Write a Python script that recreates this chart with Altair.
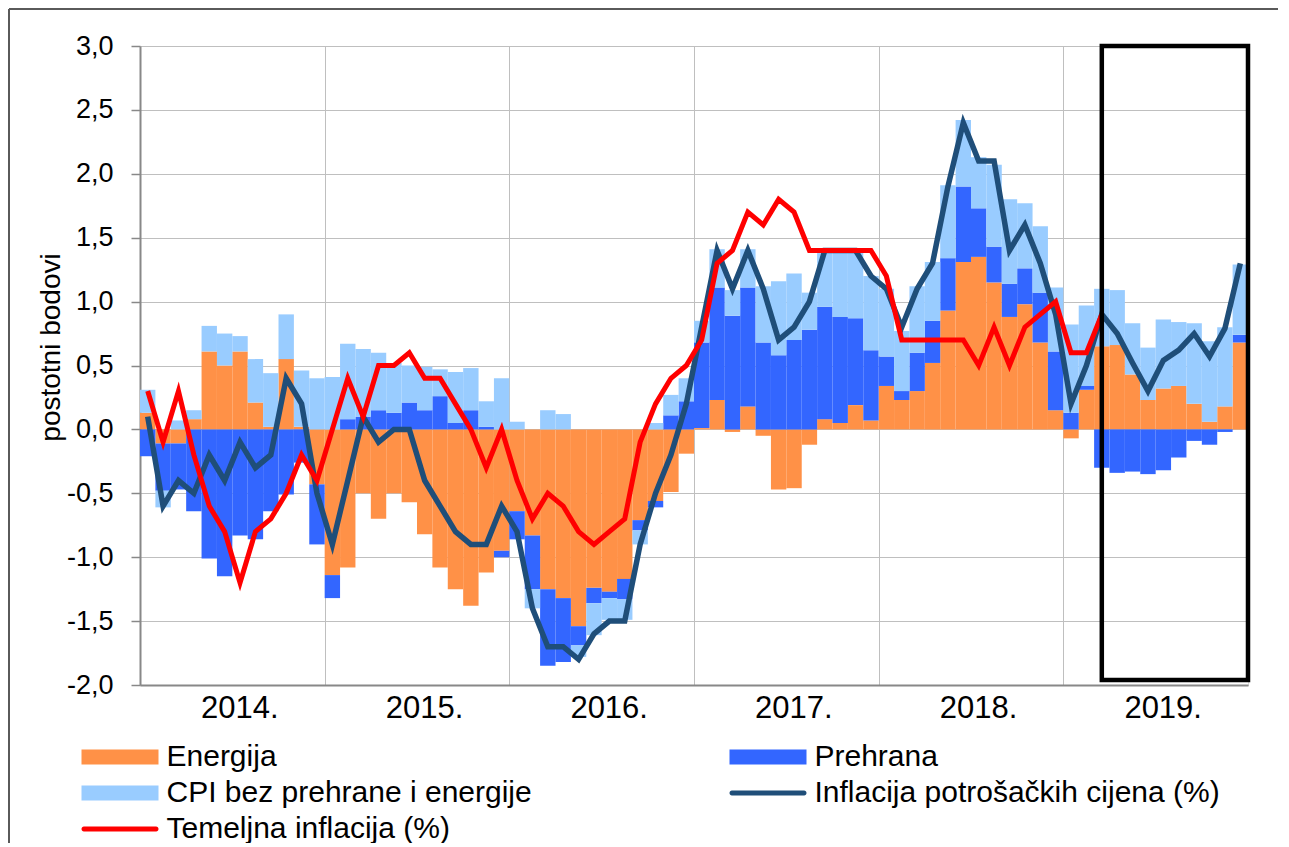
import altair as alt
import pandas as pd

# ---- series names ----
S_E = "Energija"
S_F = "Prehrana"
S_C = "CPI bez prehrane i energije"
S_I = "Inflacija potrošačkih cijena (%)"
S_T = "Temeljna inflacija (%)"
# legend is filled column by column: (E, C, T) | (F, I) -> reads row-wise E F / C I / T
LEGEND_ORDER = [S_E, S_C, S_T, S_F, S_I]
COLOR_OF = {S_E: "#FF9147", S_F: "#3366FF", S_C: "#99CCFF", S_I: "#1F4E79", S_T: "#FF0000"}

FIRST_YEAR = 2014
# monthly contributions (percentage points), Jan 2014 - Dec 2019
energija = [
    0.13, -0.11, -0.11, 0.08, 0.61, 0.50, 0.61, 0.21, 0.02, 0.55, 0.02, -0.43,
    -1.14, -1.08, -0.50, -0.70, -0.50, -0.57, -0.82, -1.08, -1.25, -1.38, -1.12, -0.95,
    -0.64, -0.83, -1.25, -1.32, -1.54, -1.24, -1.27, -1.17, -0.71, -0.56, -0.49, -0.19,
    0.01, 0.23, -0.02, 0.18, -0.05, -0.47, -0.46, -0.12, 0.08, 0.05, 0.19, 0.07,
    0.34, 0.23, 0.30, 0.52, 0.93, 1.31, 1.35, 1.15, 0.88, 0.98, 0.68, 0.15,
    -0.07, 0.31, 0.65, 0.66, 0.43, 0.23, 0.32, 0.34, 0.20, 0.06, 0.18, 0.68,
]
prehrana = [
    -0.21, -0.37, -0.36, -0.64, -1.01, -1.15, -0.83, -0.86, -0.64, -0.51, -0.26, -0.47,
    -0.18, 0.08, 0.10, 0.15, 0.13, 0.21, 0.15, 0.26, 0.05, 0.15, 0.02, -0.05,
    -0.22, -0.42, -0.60, -0.50, -0.15, -0.12, -0.05, -0.16, -0.08, -0.05, 0.11, 0.22,
    0.67, 0.88, 0.89, 0.93, 0.68, 0.58, 0.70, 0.78, 0.88, 0.83, 0.68, 0.55,
    0.23, 0.07, 0.30, 0.33, 0.41, 0.59, 0.38, 0.28, 0.26, 0.28, 0.39, 0.46,
    0.13, 0.03, -0.30, -0.34, -0.33, -0.35, -0.32, -0.22, -0.09, -0.12, -0.02, 0.06,
]
cpi_core = [
    0.18, -0.13, 0.07, 0.07, 0.20, 0.25, 0.12, 0.34, 0.42, 0.35, 0.44, 0.40,
    0.41, 0.59, 0.53, 0.45, 0.39, 0.29, 0.34, 0.21, 0.40, 0.33, 0.20, 0.40,
    0.06, -0.15, 0.15, 0.12, -0.09, -0.25, -0.17, -0.16, -0.11, 0.05, 0.16, 0.18,
    0.17, 0.30, 0.20, 0.30, 0.44, 0.58, 0.52, 0.29, 0.42, 0.53, 0.52, 0.58,
    0.53, 0.47, 0.52, 0.46, 0.57, 0.52, 0.40, 0.64, 0.66, 0.51, 0.52, 0.50,
    0.69, 0.63, 0.45, 0.43, 0.40, 0.41, 0.54, 0.50, 0.63, 0.63, 0.62, 0.55,
]
inflacija = [
    0.1, -0.6, -0.4, -0.5, -0.2, -0.4, -0.1, -0.3, -0.2, 0.4, 0.2, -0.5,
    -0.9, -0.4, 0.1, -0.1, 0.0, 0.0, -0.4, -0.6, -0.8, -0.9, -0.9, -0.6,
    -0.8, -1.4, -1.7, -1.7, -1.8, -1.6, -1.5, -1.5, -0.9, -0.5, -0.2, 0.2,
    0.8, 1.4, 1.1, 1.4, 1.1, 0.7, 0.8, 1.0, 1.4, 1.4, 1.4, 1.2,
    1.1, 0.8, 1.1, 1.3, 1.9, 2.4, 2.1, 2.1, 1.4, 1.6, 1.3, 0.9,
    0.2, 0.5, 0.9, 0.75, 0.52, 0.3, 0.54, 0.62, 0.75, 0.57, 0.79, 1.3,
]
temeljna = [
    0.3, -0.1, 0.3, -0.2, -0.6, -0.8, -1.2, -0.8, -0.7, -0.5, -0.2, -0.4,
    0.0, 0.4, 0.1, 0.5, 0.5, 0.6, 0.4, 0.4, 0.2, 0.0, -0.3, 0.0,
    -0.4, -0.7, -0.5, -0.6, -0.8, -0.9, -0.8, -0.7, -0.1, 0.2, 0.4, 0.5,
    0.7, 1.3, 1.4, 1.7, 1.6, 1.8, 1.7, 1.4, 1.4, 1.4, 1.4, 1.4,
    1.2, 0.7, 0.7, 0.7, 0.7, 0.7, 0.5, 0.8, 0.5, 0.8, 0.9, 1.0,
    0.6, 0.6, 0.9,
]
# highlighted period (month index, from mid-March 2019 to end of 2019)
highlight = {"start": 62.5, "end": 72, "top": 3.0, "bottom": -1.96}

Y_TICKS = [-2.0, -1.5, -1.0, -0.5, 0.0, 0.5, 1.0, 1.5, 2.0, 2.5, 3.0]

# ---- tables ----
n = len(energija)
rows = []
for order, (name, vals) in enumerate([(S_E, energija), (S_F, prehrana), (S_C, cpi_core)]):
    for m, v in enumerate(vals):
        rows.append({"m": m, "series": name, "value": v, "ord": order})
bars_df = pd.DataFrame(rows)
infl_df = pd.DataFrame({"m": list(range(len(inflacija))), "v": inflacija})
tem_df = pd.DataFrame({"m": list(range(len(temeljna))), "v": temeljna})
hl_df = pd.DataFrame([highlight])

FONT = "Liberation Sans"
GRID = "#BFBFBF"
AXC = "#888888"

x_scale = alt.Scale(domain=[0, n], nice=False, zero=False)
y_scale = alt.Scale(domain=[-2, 3], nice=False, zero=False)

X_AXIS = alt.Axis(
    values=list(range(6, n, 6)),
    labelExpr=f"datum.value % 12 == 6 ? ({FIRST_YEAR} + floor(datum.value / 12)) + '.' : ''",
    grid=True, gridColor=GRID, gridWidth=1,
    gridOpacity={"condition": {"test": "datum.value % 12 == 0", "value": 1}, "value": 0},
    ticks=False, domainColor=AXC, domainWidth=2,
    labelFont=FONT, labelFontSize=31, labelColor="black", labelPadding=8,
    labelOffset=7, labelOverlap=False, labelFlush=False, title=None,
)
Y_AXIS = alt.Axis(
    values=Y_TICKS,
    labelExpr="replace(replace(format(datum.value, '.1f'), '.', ','), '\u2212', '-')",
    grid=True, gridColor=GRID, gridWidth=1,
    tickSize=9, tickColor=AXC, tickWidth=1.5,
    domainColor=AXC, domainWidth=2,
    labelFont=FONT, labelFontSize=27, labelColor="black", labelPadding=18,
    title="postotni bodovi", titleFont=FONT, titleFontSize=28, titleFontWeight="normal",
    titleColor="black", titleX=-89, titleY=301, titleAngle=270,
    titleAlign="center", titleBaseline="middle",
)

line_shape = ("M-3.61,-0.24H3.61A0.24,0.24 0 0 1 3.61,0.24"
              "H-3.61A0.24,0.24 0 0 1 -3.61,-0.24Z")
rect_shape = "M-3.85,-0.75H3.85V0.75H-3.85Z"
legend = alt.Legend(
    orient="none", legendX=-35, legendY=696, columns=2, title=None,
    symbolSize=400,
    symbolType={"expr": f"(datum.value == '{S_I}' || datum.value == '{S_T}') ? '{line_shape}' : '{rect_shape}'"},
    symbolStrokeWidth=0, symbolOpacity=1,
    labelFont=FONT, labelFontSize=30, labelColor="black", labelOffset=31.5,
    labelLimit=0, rowPadding=6, columnPadding=197, padding=0,
)

bars = alt.Chart(bars_df).transform_stack(
    stack="value", groupby=["m"], as_=["y0", "y1"], offset="zero",
    sort=[alt.SortField("ord", order="ascending")],
).transform_calculate(m2="datum.m + 1").mark_bar().encode(
    x=alt.X("m:Q", scale=x_scale, axis=X_AXIS),
    x2="m2:Q",
    y=alt.Y("y0:Q", scale=y_scale, axis=Y_AXIS),
    y2="y1:Q",
    color=alt.Color(
        "series:N",
        scale=alt.Scale(domain=LEGEND_ORDER, range=[COLOR_OF[s] for s in LEGEND_ORDER]),
        legend=legend,
    ),
)

infl_line = alt.Chart(infl_df).transform_calculate(mc="datum.m + 0.5").mark_line(
    strokeWidth=5.5, color=COLOR_OF[S_I]
).encode(
    x=alt.X("mc:Q", scale=x_scale, axis=X_AXIS),
    y=alt.Y("v:Q", scale=y_scale, axis=Y_AXIS),
)
tem_line = alt.Chart(tem_df).transform_calculate(mc="datum.m + 0.5").mark_line(
    strokeWidth=5, color=COLOR_OF[S_T]
).encode(
    x=alt.X("mc:Q", scale=x_scale, axis=X_AXIS),
    y=alt.Y("v:Q", scale=y_scale, axis=Y_AXIS),
)

hl_rect = alt.Chart(hl_df).mark_rect(filled=False, stroke="black", strokeWidth=4.5).encode(
    x=alt.X("start:Q", scale=x_scale, axis=X_AXIS),
    x2="end:Q",
    y=alt.Y("top:Q", scale=y_scale, axis=Y_AXIS),
    y2="bottom:Q",
)

# outer chart frame (top and left edges)
one = pd.DataFrame({"a": [0]})
frame_top = alt.Chart(one).mark_rule(color="#5A5A5A", strokeWidth=2).encode(
    x=alt.value(-131), x2=alt.value(1160), y=alt.value(-37)
)
frame_left = alt.Chart(one).mark_rule(color="#5A5A5A", strokeWidth=2).encode(
    x=alt.value(-131), y=alt.value(-37), y2=alt.value(900)
)

chart = alt.layer(bars, infl_line, tem_line, hl_rect, frame_top, frame_left).properties(
    width=1108, height=639,
    autosize=alt.AutoSizeParams(type="none"),
    padding={"left": 132, "top": 38, "right": 30, "bottom": 158},
).configure_view(stroke=AXC, strokeWidth=1).configure(background="white")

chart.save("out.html", embed_options={"renderer": "svg", "actions": False})
